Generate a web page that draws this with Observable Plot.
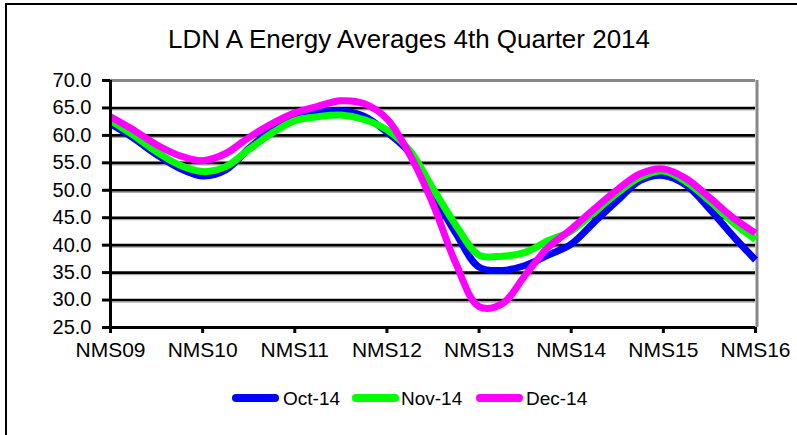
<!DOCTYPE html>
<html>
<head>
<meta charset="utf-8">
<script src="https://cdn.jsdelivr.net/npm/d3@7"></script>
<script src="https://cdn.jsdelivr.net/npm/@observablehq/plot@0.6"></script>
<style>
  html, body { margin: 0; padding: 0; background: #fff; }
  #wrap { position: relative; width: 797px; height: 435px; overflow: hidden; background: #fff;
          font-family: "Liberation Sans", Arial, sans-serif; color: #000; }
  #frame { position: absolute; left: 5px; top: 3px; width: 900px; height: 600px;
           border-left: 2px solid #000; border-top: 2px solid #000; }
  #chart { position: absolute; left: 0; top: 0; }
  #title { position: absolute; left: 0; top: 0; }
  .leg { position: absolute; font-size: 19px; line-height: 19px; top: 389px; white-space: nowrap; }
  .sw { position: absolute; height: 8px; width: 47px; top: 394px; border-radius: 4px; }
</style>
</head>
<body>
<div id="wrap">
  <div id="frame"></div>
  <div id="chart"></div>
  <svg id="title" width="797" height="70"><text x="168" y="48" font-size="25" font-family="Liberation Sans, Arial, sans-serif" textLength="482" lengthAdjust="spacingAndGlyphs">LDN A Energy Averages 4th Quarter 2014</text></svg>
  <div id="legend"></div>
</div>
<script>
const xLabels = ["NMS09","NMS10","NMS11","NMS12","NMS13","NMS14","NMS15","NMS16"];
const seriesNames = ["Oct-14","Nov-14","Dec-14"];
const seriesColors = ["#0000ff","#00ff00","#ff00ff"];
const yTicks = [25,30,35,40,45,50,55,60,65,70];

const oct14 = [62.1,59.5,56.5,54.0,52.6,53.7,57.6,60.9,63.3,64.2,64.5,63.5,60.6,56.8,49.4,42.1,36.0,35.4,36.3,38.2,40.2,44.2,48.1,51.8,52.7,50.9,46.6,41.8,37.3];
const nov14 = [62.7,60.0,57.0,54.6,53.4,54.3,57.4,60.4,62.7,63.4,63.7,62.9,61.0,57.2,50.3,43.6,38.2,38.0,38.7,40.8,42.6,46.0,49.5,52.4,53.5,51.5,48.1,44.2,41.0];
const dec14 = [63.4,61.0,58.3,56.3,55.4,56.7,59.6,62.1,64.1,65.3,66.3,65.8,63.0,56.4,47.5,36.6,28.8,29.3,34.5,39.6,42.9,46.6,50.1,53.0,53.9,52.1,48.7,45.1,42.2];

const seriesValues = [oct14, nov14, dec14];
const pointsPerLabel = (oct14.length - 1) / (xLabels.length - 1);
const rows = [];
seriesValues.forEach((vals, s) => vals.forEach((v, i) => rows.push({i, v, series: seriesNames[s]})));
const xTickIdx = xLabels.map((_, k) => k * pointsPerLabel);

const chart = Plot.plot({
  width: 797, height: 435,
  marginLeft: 110, marginRight: 42, marginTop: 80, marginBottom: 108,
  style: { fontFamily: "Liberation Sans, Arial, sans-serif", color: "#000", background: "transparent", overflow: "visible" },
  x: { domain: [0, oct14.length - 1] },
  y: { domain: [25, 70] },
  color: { domain: seriesNames, range: seriesColors },
  marks: [
    Plot.ruleY(yTicks.filter(d => d > 25 && d < 70), { stroke: "#aaa", strokeWidth: 1.2, dy: 2 }),
    Plot.ruleY(yTicks.filter(d => d > 25 && d < 70), { stroke: "#000", strokeWidth: 2.6 }),
    Plot.ruleY([70], { stroke: "#888", strokeWidth: 3 }),
    Plot.ruleX([oct14.length - 1], { stroke: "#888", strokeWidth: 3, dx: 1.5 }),
    Plot.line(rows, { x: "i", y: "v", z: "series", stroke: "series", strokeWidth: 7, curve: "catmull-rom", strokeLinejoin: "round", strokeLinecap: "butt" }),
    Plot.axisY({ ticks: yTicks, tickFormat: d => d.toFixed(1), tickSize: 8, tickPadding: 11, fontSize: 20, strokeWidth: 3, label: null }),
    Plot.axisX({ ticks: xTickIdx, tickFormat: i => xLabels[Math.round(i / pointsPerLabel)], tickSize: 6, tickPadding: 9, fontSize: 21, strokeWidth: 3, label: null }),
    Plot.ruleX([0], { stroke: "#000", strokeWidth: 3 }),
    Plot.ruleY([25], { stroke: "#000", strokeWidth: 3 })
  ]
});
document.getElementById("chart").appendChild(chart);

// legend
const legend = document.getElementById("legend");
const legPos = [{sw: 232, tx: 283}, {sw: 352, tx: 401}, {sw: 476, tx: 526}];
seriesNames.forEach((name, k) => {
  const sw = document.createElement("div");
  sw.className = "sw";
  sw.style.left = legPos[k].sw + "px";
  sw.style.background = seriesColors[k];
  legend.appendChild(sw);
  const tx = document.createElement("div");
  tx.className = "leg";
  tx.style.left = legPos[k].tx + "px";
  tx.textContent = name;
  legend.appendChild(tx);
});
</script>
</body>
</html>
